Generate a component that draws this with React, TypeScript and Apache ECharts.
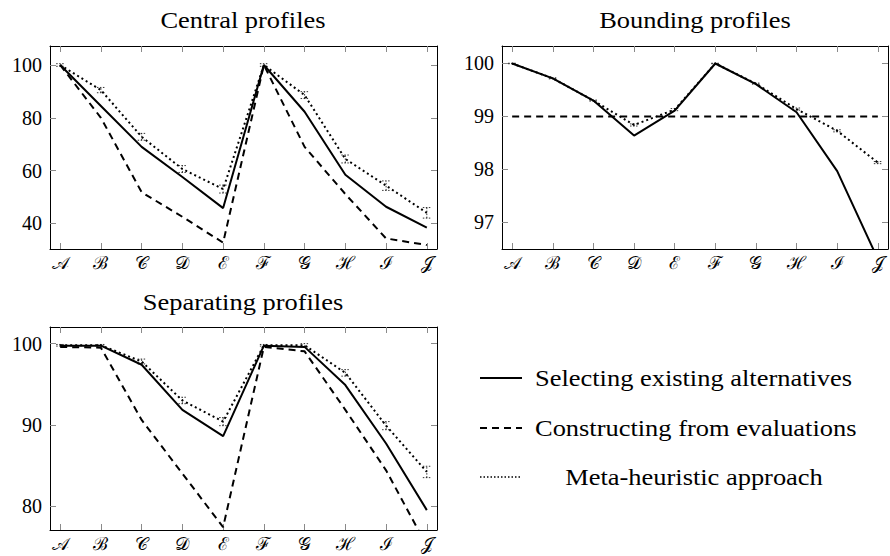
import React, { useEffect, useRef } from "react";
import * as echarts from "echarts";

const categories = ["𝒜", "ℬ", "𝒞", "𝒟", "ℰ", "ℱ", "𝒢", "ℋ", "ℐ", "𝒥"];
const seriesNames = ["Selecting existing alternatives", "Constructing from evaluations", "Meta-heuristic approach"];
const panelTitles = ["Central profiles", "Bounding profiles", "Separating profiles"];

// Central profiles
const centralSelecting = [100, 84.5, 69, 57.6, 45.8, 100, 82.3, 58.4, 46.3, 38.4];
const centralConstructing = [100, 80, 51.8, 42.5, 32.7, 100, 69, 51.1, 34.3, 31.8];
const centralMeta = [100, 90.5, 72.8, 60.6, 53, 100, 88.6, 64.4, 54.3, 44];
const centralMetaErr = [0.5, 1, 1.3, 1.3, 1.5, 0.5, 1.3, 1.5, 1.8, 2];
const centralTicks = [40, 60, 80, 100];

// Bounding profiles
const boundingSelecting = [100, 99.72, 99.3, 98.64, 99.11, 100, 99.61, 99.08, 97.97, 96.31];
const boundingConstructing = [99, 99, 99, 99, 99, 99, 99, 99, 99, 99];
const boundingMeta = [100, 99.72, 99.3, 98.84, 99.13, 100, 99.62, 99.14, 98.73, 98.13];
const boundingMetaErr = [0.005, 0.01, 0.01, 0.02, 0.02, 0.005, 0.01, 0.02, 0.02, 0.02];
const boundingTicks = [97, 98, 99, 100];

// Separating profiles
const separatingSelecting = [99.75, 99.75, 97.4, 91.85, 88.6, 99.75, 99.6, 94.9, 87.7, 79.5];
const separatingConstructing = [99.6, 99.5, 90.6, 84.0, 77.4, 99.6, 99.05, 91.85, 84.4, 75.1];
const separatingMeta = [99.8, 99.8, 97.8, 93.0, 90.4, 99.8, 99.8, 96.4, 89.9, 84.2];
const separatingMetaErr = [0.1, 0.1, 0.3, 0.4, 0.5, 0.1, 0.2, 0.4, 0.5, 0.7];
const separatingTicks = [80, 90, 100];

const xTickValues = [0, 1, 2, 3, 4, 5, 6, 7, 8, 9];

const FONT = "Liberation Serif";

export default function App() {
  const ref = useRef<HTMLDivElement>(null);

  useEffect(() => {
    if (!ref.current) return;
    const chart = echarts.init(ref.current, undefined, { renderer: "svg" });

    const grids = [
      { left: 50, top: 46, width: 387, height: 203 },
      { left: 502, top: 46, width: 386, height: 203 },
      { left: 50, top: 327, width: 387, height: 203 },
    ];
    const yRanges = [
      { min: 30.3, max: 107.2, ticks: centralTicks },
      { min: 96.5, max: 100.33, ticks: boundingTicks },
      { min: 77.05, max: 102.05, ticks: separatingTicks },
    ];
    const panels = [
      [centralSelecting, centralConstructing, centralMeta, centralMetaErr],
      [boundingSelecting, boundingConstructing, boundingMeta, boundingMetaErr],
      [separatingSelecting, separatingConstructing, separatingMeta, separatingMetaErr],
    ];

    const tickStyle = { color: "#8a8a8a", width: 1 };
    const lineAxis = { show: true, onZero: false, lineStyle: { color: "#000", width: 1 } };

    const xAxis: any[] = [];
    const yAxis: any[] = [];
    grids.forEach((g, gi) => {
      xAxis.push({
        type: "value", gridIndex: gi, position: "bottom", min: -0.25, max: 9.25,
        axisLine: lineAxis,
        axisTick: { show: true, inside: true, length: 6, customValues: xTickValues, lineStyle: tickStyle },
        axisLabel: {
          customValues: xTickValues, formatter: (v: number) => categories[Math.round(v)],
          fontFamily: FONT, fontSize: 18, color: "#000", margin: 5,
        },
        splitLine: { show: false },
      });
      xAxis.push({
        type: "value", gridIndex: gi, position: "top", min: -0.25, max: 9.25,
        axisLine: lineAxis,
        axisTick: { show: true, inside: true, length: 6, customValues: xTickValues, lineStyle: tickStyle },
        axisLabel: { show: false },
        splitLine: { show: false },
      });
      const yr = yRanges[gi];
      yAxis.push({
        type: "value", gridIndex: gi, position: "left", min: yr.min, max: yr.max,
        axisLine: lineAxis,
        axisTick: { show: true, inside: true, length: 6, customValues: yr.ticks, lineStyle: tickStyle },
        axisLabel: { customValues: yr.ticks, fontFamily: FONT, fontSize: 20, color: "#000", margin: 8 },
        splitLine: { show: false },
      });
      yAxis.push({
        type: "value", gridIndex: gi, position: "right", min: yr.min, max: yr.max,
        axisLine: lineAxis,
        axisTick: { show: true, inside: true, length: 6, customValues: yr.ticks, lineStyle: tickStyle },
        axisLabel: { show: false },
        splitLine: { show: false },
      });
    });

    const lineTypes: any[] = ["solid", [7, 5], [2, 3]];
    const series: any[] = [];
    panels.forEach((p, gi) => {
      for (let s = 0; s < 3; s++) {
        const vals = p[s] as number[];
        series.push({
          type: "line", name: seriesNames[s], xAxisIndex: gi * 2, yAxisIndex: gi * 2,
          data: vals.map((v, i) => [i, v]), symbol: "none", clip: true,
          lineStyle: { color: "#000", width: 2, type: lineTypes[s] },
          z: 3 - s,
        });
      }
      const meta = p[2] as number[];
      const err = p[3] as number[];
      series.push({
        type: "custom", name: seriesNames[2] + " error", xAxisIndex: gi * 2, yAxisIndex: gi * 2,
        data: meta.map((v, i) => [i, v - err[i], v + err[i]]),
        encode: { x: 0, y: [1, 2] }, clip: true, silent: true,
        renderItem: (params: any, api: any) => {
          const x = api.value(0);
          const lo = api.coord([x, api.value(1)]);
          const hi = api.coord([x, api.value(2)]);
          const w = 4;
          const st = { stroke: "#000", lineWidth: 0.8, lineDash: [1.5, 1.5] };
          return {
            type: "group",
            children: [
              { type: "line", shape: { x1: lo[0], y1: lo[1], x2: hi[0], y2: hi[1] }, style: st },
              { type: "line", shape: { x1: lo[0] - w, y1: lo[1], x2: lo[0] + w, y2: lo[1] }, style: st },
              { type: "line", shape: { x1: hi[0] - w, y1: hi[1], x2: hi[0] + w, y2: hi[1] }, style: st },
            ],
          };
        },
      });
    });

    const titleCenters = [
      { x: 243, y: 20 },
      { x: 695, y: 20 },
      { x: 243, y: 302 },
    ];

    const legendRows = [378, 428, 477];
    const graphic: any[] = [];
    titleCenters.forEach((c, i) => {
      graphic.push({
        type: "text", x: c.x, y: c.y, scaleX: 1.15,
        style: {
          text: panelTitles[i], fontFamily: FONT, fontSize: 23, fill: "#000",
          align: "center", verticalAlign: "middle",
        },
      });
    });
    legendRows.forEach((y, i) => {
      graphic.push({
        type: "line",
        shape: { x1: 480, y1: y, x2: 522, y2: y },
        style: { stroke: "#000", lineWidth: i === 2 ? 1.5 : 2, lineDash: i === 0 ? null : i === 1 ? [7, 5] : [1.5, 2] },
      });
      graphic.push({
        type: "text",
        x: i === 2 ? 694 : 535, y, scaleX: 1.15,
        style: {
          text: seriesNames[i], fontFamily: FONT, fontSize: 23, fill: "#000",
          align: i === 2 ? "center" : "left", verticalAlign: "middle",
        },
      });
    });

    chart.setOption({
      animation: false,
      backgroundColor: "#fff",
      grid: grids,
      xAxis, yAxis, series, graphic,
    });

    return () => chart.dispose();
  }, []);

  return <div ref={ref} style={{ position: "fixed", left: 0, top: 0, width: 890, height: 556 }} />;
}
